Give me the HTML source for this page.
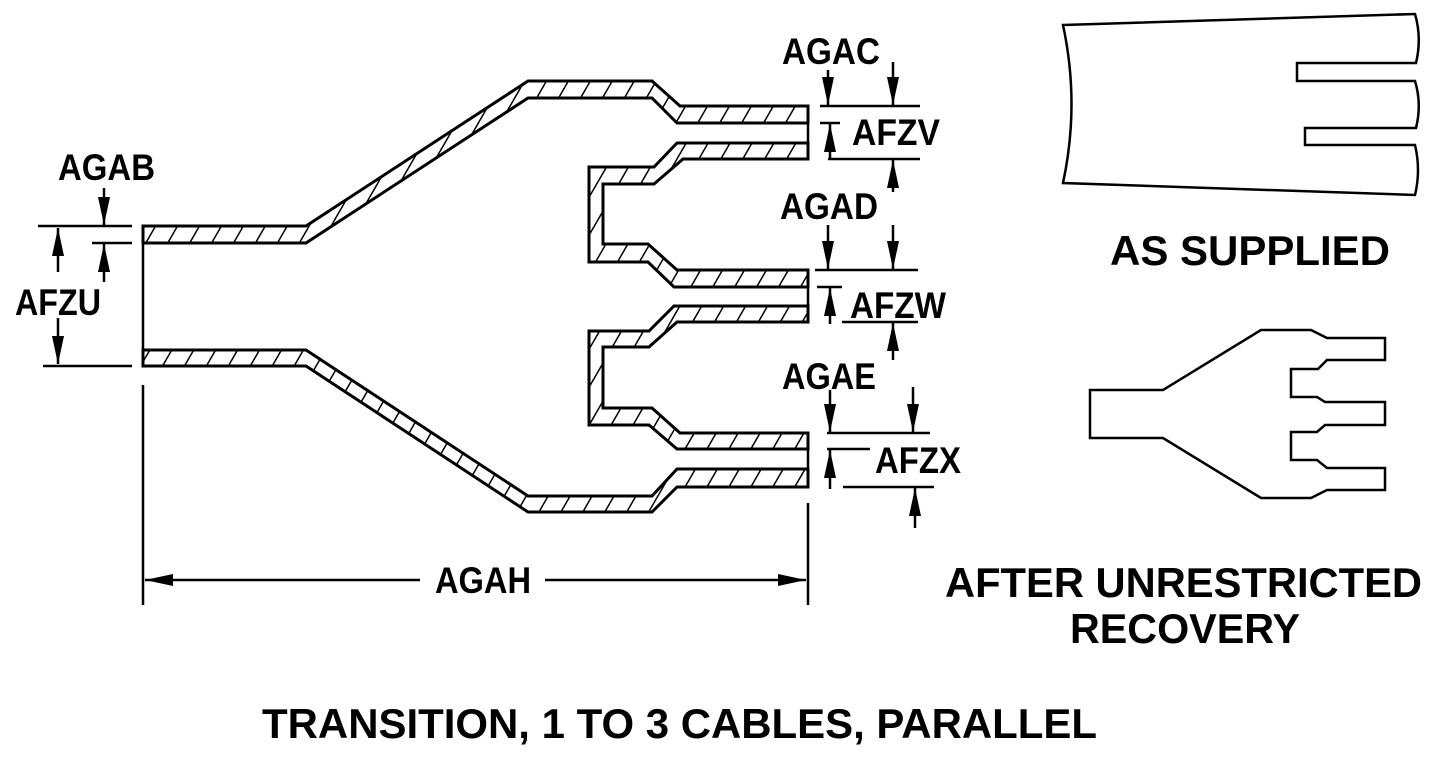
<!DOCTYPE html>
<html><head><meta charset="utf-8"><style>
html,body{margin:0;padding:0;background:#fff}
svg{display:block}
text{font-family:"Liberation Sans",Arial,sans-serif;font-weight:bold;fill:#000}
</style></head><body>
<svg width="1434" height="759" viewBox="0 0 1434 759" xmlns="http://www.w3.org/2000/svg">
<defs>
<pattern id="h" patternUnits="userSpaceOnUse" width="19" height="19" patternTransform="rotate(30)">
<rect width="19" height="19" fill="#fff"/>
<line x1="0" y1="0" x2="0" y2="19" stroke="#000" stroke-width="3"/>
</pattern>
<marker id="a" viewBox="0 0 28 12" refX="28" refY="6" markerWidth="28" markerHeight="12" markerUnits="userSpaceOnUse" orient="auto">
<path d="M0,0 L28,6 L0,12 z" fill="#000"/>
</marker>
</defs>
<g fill="url(#h)" stroke="#000" stroke-width="3" stroke-linejoin="miter">
<polygon points="143,226 306,226 528,81 652,81 680,106 808,106 808,123 677,123 652,98 528,98 306,243 143,243"/>
<polygon points="808,159 683,159 654,184 603,184 603,244 648,244 677,270 808,270 808,287 674,287 648,262 589,262 589,167 654,167 677,143 808,143"/>
<polygon points="808,306 674,306 649,331 589,331 589,425 649,425 677,449 808,449 808,433 680,433 652,408 603,408 603,347 649,347 677,322 808,322"/>
<polygon points="143,350 306,350 528,496 652,496 677,469 808,469 808,487 677,487 652,512 528,512 306,366 143,366"/>
</g>
<g stroke="#000" stroke-width="2.5" fill="none">
<line x1="143" y1="243" x2="143" y2="350"/>
<line x1="808" y1="123" x2="808" y2="143"/>
<line x1="808" y1="287" x2="808" y2="306"/>
<line x1="808" y1="449" x2="808" y2="469"/>
<line x1="143" y1="385" x2="143" y2="605"/>
<line x1="808" y1="503" x2="808" y2="605"/>
<line x1="420" y1="580" x2="145" y2="580" marker-end="url(#a)"/>
<line x1="545" y1="580" x2="806" y2="580" marker-end="url(#a)"/>
<line x1="38" y1="226" x2="132" y2="226"/>
<line x1="43" y1="366" x2="132" y2="366"/>
<line x1="92" y1="243" x2="132" y2="243"/>
<line x1="58" y1="272" x2="58" y2="228" marker-end="url(#a)"/>
<line x1="58" y1="318" x2="58" y2="364" marker-end="url(#a)"/>
<line x1="104" y1="188" x2="104" y2="225" marker-end="url(#a)"/>
<line x1="104" y1="282" x2="104" y2="244" marker-end="url(#a)"/>
<line x1="820" y1="106" x2="920" y2="106"/>
<line x1="820" y1="123" x2="840" y2="123"/>
<line x1="828" y1="159" x2="920" y2="159"/>
<line x1="828" y1="70" x2="828" y2="105" marker-end="url(#a)"/>
<line x1="893" y1="62" x2="893" y2="105" marker-end="url(#a)"/>
<line x1="830" y1="160" x2="830" y2="124" marker-end="url(#a)"/>
<line x1="893" y1="192" x2="893" y2="160" marker-end="url(#a)"/>
<line x1="815" y1="270" x2="918" y2="270"/>
<line x1="817" y1="287" x2="842" y2="287"/>
<line x1="842" y1="322" x2="918" y2="322"/>
<line x1="828" y1="225" x2="828" y2="269" marker-end="url(#a)"/>
<line x1="893" y1="225" x2="893" y2="269" marker-end="url(#a)"/>
<line x1="830" y1="324" x2="830" y2="288" marker-end="url(#a)"/>
<line x1="893" y1="360" x2="893" y2="323" marker-end="url(#a)"/>
<line x1="827" y1="433" x2="930" y2="433"/>
<line x1="827" y1="449" x2="870" y2="449"/>
<line x1="843" y1="487" x2="934" y2="487"/>
<line x1="830" y1="390" x2="830" y2="432" marker-end="url(#a)"/>
<line x1="913" y1="387" x2="913" y2="432" marker-end="url(#a)"/>
<line x1="830" y1="489" x2="830" y2="450" marker-end="url(#a)"/>
<line x1="915" y1="528" x2="915" y2="488" marker-end="url(#a)"/>
</g>
<path d="M1063,25 L1415,14 Q1422,38 1416,63 L1297,63 L1297,81 L1415,81 Q1422,104 1416,128 L1305,128 L1305,145 L1415,145 Q1421,170 1415,195 L1063,183 Q1080,104 1063,25 Z" fill="none" stroke="#000" stroke-width="2.5"/>
<path d="M1090,390 L1163,390 L1261,330 L1311,330 L1327,338 L1385,338 L1385,360 L1327,360 L1318,369 L1291,369 L1291,397 L1317,397 L1325,402 L1385,402 L1385,425 L1325,425 L1317,432 L1291,432 L1291,460 L1317,460 L1327,468 L1385,468 L1385,490 L1327,490 L1311,498 L1261,498 L1163,438 L1090,438 Z" fill="none" stroke="#000" stroke-width="2.5"/>
<g font-size="37">
<text x="58" y="180" textLength="97" lengthAdjust="spacingAndGlyphs">AGAB</text>
<text x="15" y="315" textLength="86" lengthAdjust="spacingAndGlyphs">AFZU</text>
<text x="782" y="64" textLength="98" lengthAdjust="spacingAndGlyphs">AGAC</text>
<text x="852" y="145" textLength="88" lengthAdjust="spacingAndGlyphs">AFZV</text>
<text x="780" y="219" textLength="98" lengthAdjust="spacingAndGlyphs">AGAD</text>
<text x="850" y="318" textLength="96" lengthAdjust="spacingAndGlyphs">AFZW</text>
<text x="782" y="389" textLength="94" lengthAdjust="spacingAndGlyphs">AGAE</text>
<text x="875" y="473" textLength="86" lengthAdjust="spacingAndGlyphs">AFZX</text>
<text x="435" y="593" textLength="96" lengthAdjust="spacingAndGlyphs">AGAH</text>
</g>
<g font-size="42">
<text x="1110" y="265" textLength="280" lengthAdjust="spacingAndGlyphs">AS SUPPLIED</text>
<text x="945" y="597" textLength="477" lengthAdjust="spacingAndGlyphs">AFTER UNRESTRICTED</text>
<text x="1070" y="643" textLength="230" lengthAdjust="spacingAndGlyphs">RECOVERY</text>
<text x="262" y="738" textLength="835" lengthAdjust="spacingAndGlyphs">TRANSITION, 1 TO 3 CABLES, PARALLEL</text>
</g>
</svg>
</body></html>
